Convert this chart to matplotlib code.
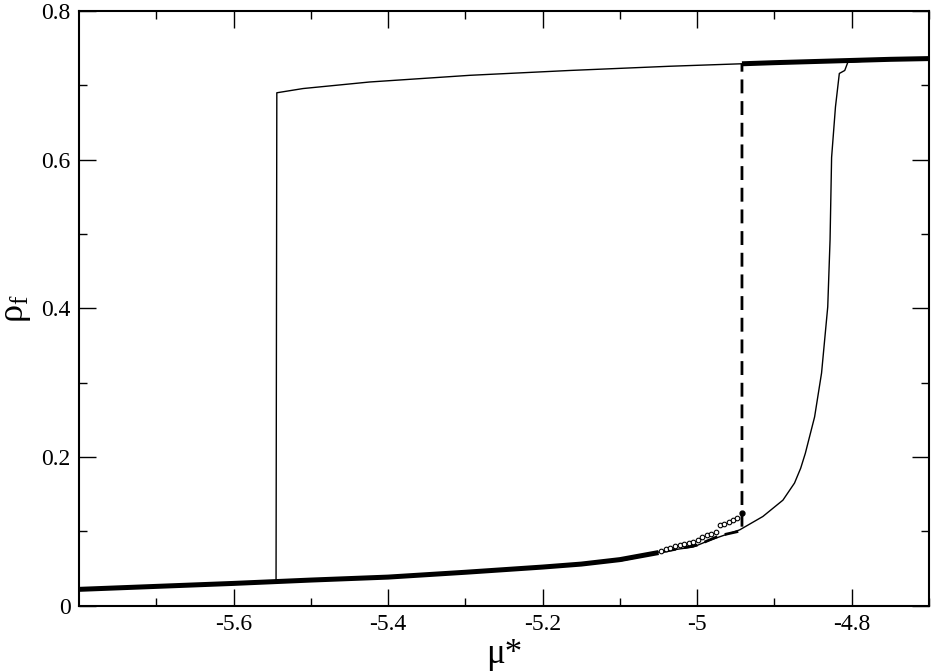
import numpy as np
from matplotlib import pyplot as plt

plt.rcParams['font.family'] = ['Liberation Serif', 'DejaVu Serif']
plt.rcParams['axes.unicode_minus'] = False
plt.rcParams['mathtext.fontset'] = 'custom'
plt.rcParams['mathtext.rm'] = 'Liberation Serif'

# simulation branch (dense circles -> thick band), lower part
lo_mu = [-5.80, -5.70, -5.60, -5.50, -5.40, -5.30, -5.20, -5.15, -5.10, -5.05]
lo_rho = [0.022, 0.026, 0.030, 0.0345, 0.0385, 0.045, 0.052, 0.056, 0.062, 0.0715]

# sparse open circles before the jump
sp_mu = [-5.0462, -5.0406, -5.0346, -5.0286, -5.0225, -5.0169, -5.0109, -5.0053,
         -4.9992, -4.9932, -4.9876, -4.9815, -4.9759, -4.9699, -4.9647, -4.9591,
         -4.9535, -4.9484]
sp_rho = [0.0740, 0.0758, 0.0776, 0.0798, 0.0816, 0.0830, 0.0847, 0.0861,
          0.0888, 0.0919, 0.0950, 0.0968, 0.0987, 0.1085, 0.1099, 0.1121,
          0.1148, 0.1175]

# last point (filled)
end_mu = [-4.942]
end_rho = [0.125]

# simulation branch, upper part
hi_mu = [-4.942, -4.90, -4.85, -4.80, -4.75, -4.70]
hi_rho = [0.729, 0.7305, 0.732, 0.7335, 0.735, 0.736]

# adsorption (thin line)
ads_mu = [-5.80, -5.70, -5.60, -5.50, -5.40, -5.30, -5.20, -5.10, -5.048, -5.005,
          -4.984, -4.945, -4.915, -4.889, -4.874, -4.866, -4.860, -4.848, -4.839,
          -4.831, -4.828, -4.826, -4.821, -4.816, -4.809, -4.805, -4.75, -4.70]
ads_rho = [0.022, 0.026, 0.030, 0.0345, 0.0385, 0.045, 0.052, 0.061, 0.0726, 0.079,
           0.088, 0.102, 0.120, 0.142, 0.165, 0.185, 0.205, 0.254, 0.313,
           0.402, 0.492, 0.603, 0.671, 0.716, 0.720, 0.731, 0.735, 0.736]

# desorption (thin line)
des_mu = [-4.70, -4.80, -4.943, -5.035, -5.165, -5.294, -5.424, -5.510, -5.544,
          -5.545, -5.60, -5.70, -5.80]
des_rho = [0.736, 0.7335, 0.729, 0.7257, 0.720, 0.7135, 0.7045, 0.6957, 0.690,
           0.032, 0.030, 0.026, 0.022]

# equilibrium (dashed)
eq_mu = [-5.10, -5.05, -5.00, -4.97, -4.942, -4.942]
eq_rho = [0.061, 0.0715, 0.0815, 0.0945, 0.101, 0.729]

fig = plt.figure(figsize=(9.34, 6.71), dpi=100)
ax = fig.add_axes([0.0846, 0.0973, 0.9100, 0.8863])

ax.plot(ads_mu, ads_rho, color='k', lw=1.0)
ax.plot(des_mu, des_rho, color='k', lw=1.0)
ax.plot(eq_mu, eq_rho, color='k', lw=2.0, dashes=(5, 2.8))
ax.plot(lo_mu, lo_rho, color='k', lw=3.6, solid_capstyle='butt')
ax.plot(hi_mu, hi_rho, color='k', lw=3.6, solid_capstyle='butt')
ax.plot(sp_mu, sp_rho, 'o', ms=3.3, mfc='white', mec='k', mew=0.8)
ax.plot(end_mu, end_rho, 'o', ms=3.5, color='k')

ax.set_xlim(-5.8, -4.7)
ax.set_ylim(0, 0.8)

xt = [-5.6, -5.4, -5.2, -5.0, -4.8]
ax.set_xticks(xt)
ax.set_xticklabels(['-5.6', '-5.4', '-5.2', '-5', '-4.8'])
ax.set_xticks(np.arange(-5.7, -4.65, 0.2), minor=True)
yt = [0, 0.2, 0.4, 0.6, 0.8]
ax.set_yticks(yt)
ax.set_yticklabels(['0', '0.2', '0.4', '0.6', '0.8'])
ax.set_yticks([0.1, 0.3, 0.5, 0.7], minor=True)

ax.tick_params(which='both', direction='in', top=True, right=True,
               labelsize=17, width=1.0, pad=6)
ax.tick_params(which='major', length=12)
ax.tick_params(which='minor', length=6)
for s in ax.spines.values():
    s.set_linewidth(1.5)

ax.set_xlabel('μ*', fontsize=25, labelpad=2)
ax.set_ylabel(r'$\mathregular{ρ_f}$', fontsize=26, labelpad=6)

plt.savefig('out.png', dpi=100)
